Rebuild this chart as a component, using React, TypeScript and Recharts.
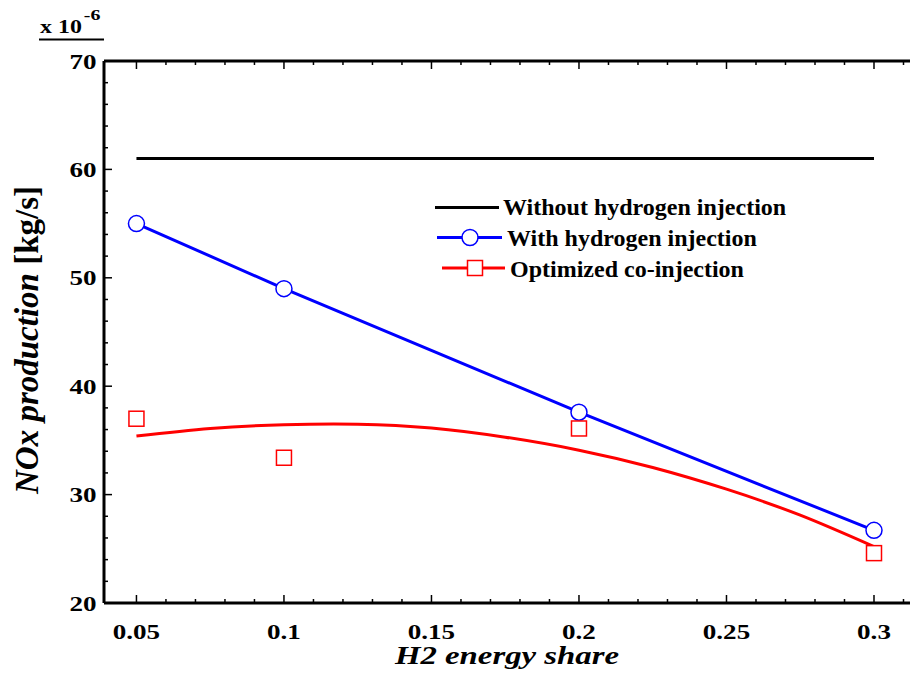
import React from "react";
import { ComposedChart, Line, XAxis, YAxis, ReferenceLine, Legend } from "recharts";

// H2 energy share at the simulated cases
const shares = [0.05, 0.1, 0.2, 0.3];
const withoutH2 = [61.0, 61.0, 61.0, 61.0];
const withH2 = [55.0, 49.0, 37.6, 26.7];
const coInjection = [37.0, 33.4, 36.1, 24.6];

// fitted trend of the co-injection points
const fitShares = [0.05, 0.075, 0.1, 0.125, 0.15, 0.175, 0.2, 0.225, 0.25, 0.275, 0.3];
const fitValues = [35.4, 36.1, 36.45, 36.5, 36.15, 35.3, 34.1, 32.5, 30.5, 28.1, 25.2];

const xTicks = [
  0.05, 0.06, 0.07, 0.08, 0.09, 0.1, 0.11, 0.12, 0.13, 0.14, 0.15, 0.16, 0.17, 0.18,
  0.19, 0.2, 0.21, 0.22, 0.23, 0.24, 0.25, 0.26, 0.27, 0.28, 0.29, 0.3, 0.31,
];
const xLabels = [0.05, 0.1, 0.15, 0.2, 0.25, 0.3];
const yTicks = [
  20, 22, 24, 26, 28, 30, 32, 34, 36, 38, 40, 42, 44, 46, 48, 50, 52, 54, 56, 58, 60,
  62, 64, 66, 68, 70,
];
const yLabels = [20, 30, 40, 50, 60, 70];

const legendLabels = ["Without hydrogen injection", "With hydrogen injection", "Optimized co-injection"];

const FONT = "Liberation Serif, Tinos, Times New Roman, Nimbus Roman, serif";
const SX = 1.32; // the figure's text is stretched sideways
const PLOT_TOP = 61;
const PLOT_BOTTOM = 603;
const PLOT_LEFT = 104;
const BLUE = "#0000ff";
const RED = "#ff0000";

const toPoints = (xs: number[], ys: number[]) => xs.map((x, i) => ({ x, v: ys[i] }));

const isLabel = (list: number[], v: number) => list.some((l) => Math.abs(l - v) < 1e-6);

const txt = { fontFamily: FONT, fontWeight: 700 as const, fill: "#000" };

const renderXTick = (props: any) => {
  const { x, payload } = props;
  const v = payload.value;
  const major = isLabel(xLabels, v);
  const len = major ? 8 : 4;
  return (
    <g key={`xt-${v}`}>
      <line x1={x} x2={x} y1={PLOT_BOTTOM} y2={PLOT_BOTTOM - len} stroke="#000" strokeWidth={1.5} />
      <line x1={x} x2={x} y1={PLOT_TOP} y2={PLOT_TOP + len} stroke="#000" strokeWidth={1.5} />
      {major && (
        <text transform={`translate(${x},638.5) scale(${SX},1)`} textAnchor="middle" style={{ ...txt, fontSize: 20.5 }}>
          {String(v)}
        </text>
      )}
    </g>
  );
};

const renderYTick = (props: any) => {
  const { y, payload } = props;
  const v = payload.value;
  const major = isLabel(yLabels, v);
  const len = major ? 8 : 4;
  return (
    <g key={`yt-${v}`}>
      <line x1={PLOT_LEFT} x2={PLOT_LEFT + len} y1={y} y2={y} stroke="#000" strokeWidth={1.5} />
      {major && (
        <text transform={`translate(96.5,${y + 7.5}) scale(${SX},1)`} textAnchor="end" style={{ ...txt, fontSize: 20.5 }}>
          {String(v)}
        </text>
      )}
    </g>
  );
};

const renderCircle = (props: any) => {
  const { cx, cy, index } = props;
  return <circle key={`c-${index}`} cx={cx} cy={cy} r={8} fill="#fff" stroke={BLUE} strokeWidth={1.5} />;
};

const renderSquare = (props: any) => {
  const { cx, cy, index } = props;
  return (
    <rect key={`s-${index}`} x={cx - 7.5} y={cy - 7.5} width={15} height={15} fill="#fff" stroke={RED} strokeWidth={1.5} />
  );
};

const XTitle = () => (
  <text
    transform={`translate(507,664) scale(1.34,1)`}
    textAnchor="middle"
    style={{ ...txt, fontSize: 24.5, fontStyle: "italic" }}
  >
    H2 energy share
  </text>
);

const YTitle = () => (
  <g>
    <text transform="translate(38,340) rotate(-90)" textAnchor="middle" style={{ ...txt, fontSize: 33 }}>
      <tspan style={{ fontStyle: "italic" }}>NOx production </tspan>
      <tspan>[kg/s]</tspan>
    </text>
    <text transform={`translate(40,33) scale(1.33,1)`} style={{ ...txt, fontSize: 18 }}>
      x 10
      <tspan dx={1.5} dy={-13} style={{ fontSize: 15 }}>-6</tspan>
    </text>
    <line x1={39} x2={104} y1={39.5} y2={39.5} stroke="#000" strokeWidth={2} />
  </g>
);

const renderLegend = () => {
  const s = { ...txt, fontSize: 24 };
  return (
    <svg width={400} height={100} style={{ overflow: "visible" }}>
      <g transform="translate(-420,-185)">
        <line x1={435} x2={499} y1={207.5} y2={207.5} stroke="#000" strokeWidth={3} />
        <text x={503} y={215} style={s}>{legendLabels[0]}</text>
        <line x1={437} x2={502} y1={237.5} y2={237.5} stroke={BLUE} strokeWidth={3} />
        <circle cx={470} cy={237.5} r={8} fill="#fff" stroke={BLUE} strokeWidth={1.5} />
        <text x={507} y={246} style={s}>{legendLabels[1]}</text>
        <line x1={442} x2={505} y1={268} y2={268} stroke={RED} strokeWidth={3} />
        <rect x={467.5} y={260.5} width={15} height={15} fill="#fff" stroke={RED} strokeWidth={1.5} />
        <text x={510} y={277} style={s}>{legendLabels[2]}</text>
      </g>
    </svg>
  );
};

export default function App() {
  return (
    <div style={{ position: "absolute", left: 0, top: 0, width: 910, height: 675, overflow: "hidden", background: "#fff" }}>
      <ComposedChart width={940} height={675} margin={{ top: PLOT_TOP, right: 7, bottom: 0, left: 0 }}>
        <XAxis
          dataKey="x"
          type="number"
          domain={[0.039, 0.32]}
          allowDataOverflow
          ticks={xTicks}
          interval={0}
          tick={renderXTick}
          tickLine={false}
          axisLine={{ stroke: "#000", strokeWidth: 3 }}
          height={675 - PLOT_BOTTOM}
          label={{ content: () => <XTitle /> }}
        />
        <YAxis
          type="number"
          domain={[20, 70]}
          allowDataOverflow
          ticks={yTicks}
          interval={0}
          tick={renderYTick}
          tickLine={false}
          axisLine={{ stroke: "#000", strokeWidth: 3 }}
          width={PLOT_LEFT}
          label={{ content: () => <YTitle /> }}
        />
        <ReferenceLine y={70} stroke="#000" strokeWidth={3} ifOverflow="visible" />
        <Legend
          verticalAlign="middle"
          layout="horizontal"
          wrapperStyle={{ position: "absolute", left: 420, top: 185, width: 400, height: 100 }}
          content={renderLegend}
        />
        <Line
          data={toPoints(shares, withoutH2)}
          dataKey="v"
          type="linear"
          stroke="#000"
          strokeWidth={3}
          dot={false}
          isAnimationActive={false}
        />
        <Line
          data={toPoints(shares, withH2)}
          dataKey="v"
          type="linear"
          stroke={BLUE}
          strokeWidth={3}
          dot={renderCircle}
          isAnimationActive={false}
        />
        <Line
          data={toPoints(fitShares, fitValues)}
          dataKey="v"
          type="natural"
          stroke={RED}
          strokeWidth={3}
          dot={false}
          isAnimationActive={false}
        />
        <Line
          data={toPoints(shares, coInjection)}
          dataKey="v"
          type="linear"
          stroke="none"
          dot={renderSquare}
          isAnimationActive={false}
        />
      </ComposedChart>
    </div>
  );
}
